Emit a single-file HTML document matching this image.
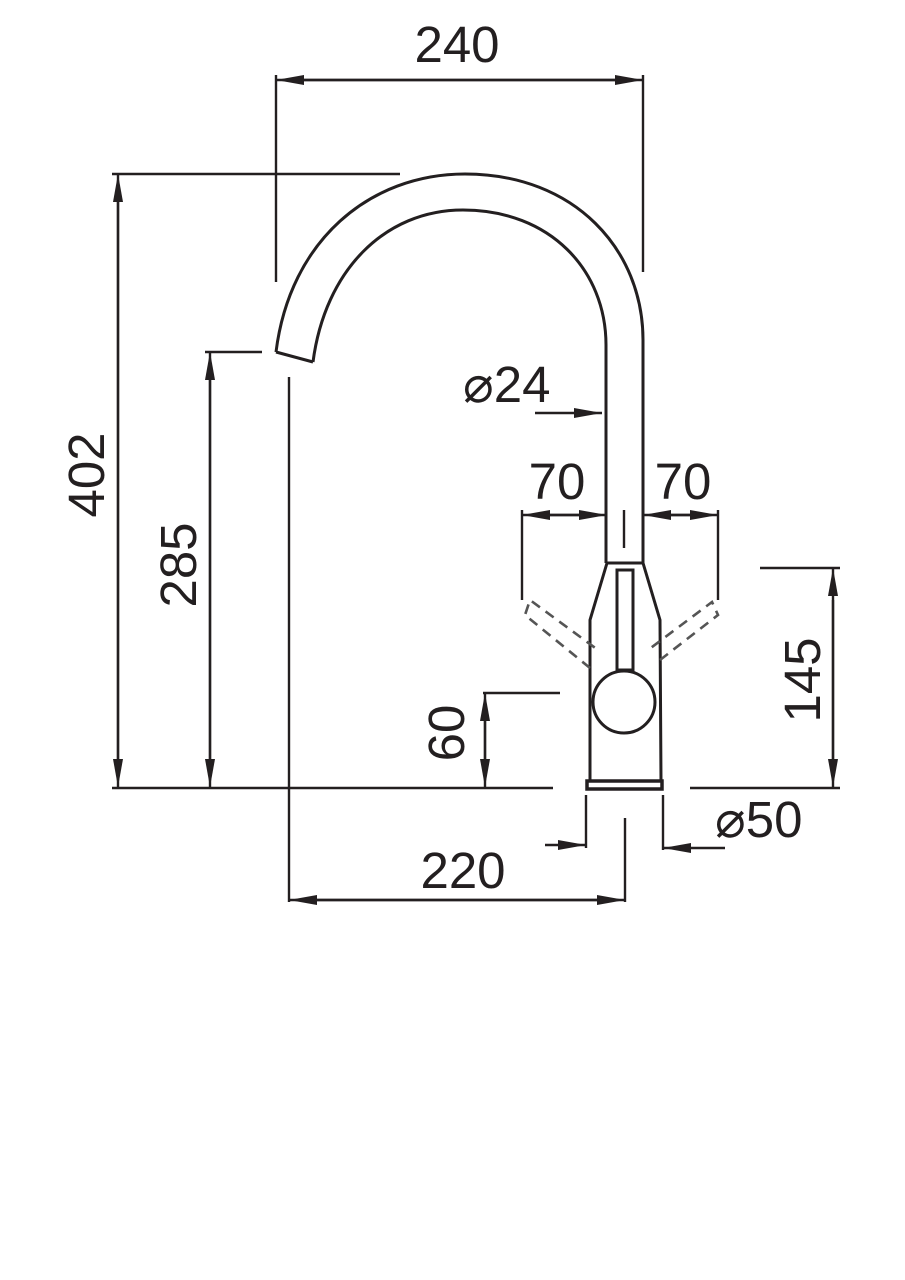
<!DOCTYPE html>
<html><head><meta charset="utf-8"><style>
html,body{margin:0;padding:0;background:#fff;}
svg{display:block}
text{font-family:"Liberation Sans",sans-serif;font-size:51px;fill:#231f20}
</style></head><body>
<svg width="905" height="1280" viewBox="0 0 905 1280" xmlns="http://www.w3.org/2000/svg">
<defs>
<marker id="a" markerUnits="userSpaceOnUse" markerWidth="30" markerHeight="12" refX="28" refY="5" orient="auto">
<path d="M0,0 L28,5 L0,10 Z" fill="#231f20"/></marker>
</defs>
<g stroke="#231f20" stroke-width="2.4" fill="none">
<line x1="276" y1="75" x2="276" y2="282"/>
<line x1="643" y1="75" x2="643" y2="272"/>
<line x1="290" y1="80" x2="643" y2="80" marker-end="url(#a)"/>
<line x1="620" y1="80" x2="276" y2="80" marker-end="url(#a)"/>
<line x1="112" y1="174" x2="400" y2="174"/>
<line x1="118" y1="760" x2="118" y2="174" marker-end="url(#a)"/>
<line x1="118" y1="200" x2="118" y2="787" marker-end="url(#a)"/>
<line x1="205" y1="352" x2="262" y2="352"/>
<line x1="210" y1="760" x2="210" y2="352" marker-end="url(#a)"/>
<line x1="210" y1="380" x2="210" y2="787" marker-end="url(#a)"/>
<line x1="112" y1="788" x2="553" y2="788"/>
<line x1="690" y1="788" x2="840" y2="788"/>
<line x1="289" y1="377" x2="289" y2="902"/>
<line x1="625" y1="818" x2="625" y2="902"/>
<line x1="600" y1="900" x2="289" y2="900" marker-end="url(#a)"/>
<line x1="310" y1="900" x2="625" y2="900" marker-end="url(#a)"/>
<line x1="483" y1="693" x2="560" y2="693"/>
<line x1="485" y1="760" x2="485" y2="693" marker-end="url(#a)"/>
<line x1="485" y1="720" x2="485" y2="787" marker-end="url(#a)"/>
<line x1="760" y1="568" x2="840" y2="568"/>
<line x1="833" y1="760" x2="833" y2="568" marker-end="url(#a)"/>
<line x1="833" y1="600" x2="833" y2="787" marker-end="url(#a)"/>
<line x1="586" y1="795" x2="586" y2="848"/>
<line x1="663" y1="795" x2="663" y2="850"/>
<line x1="545" y1="845" x2="586" y2="845" marker-end="url(#a)"/>
<line x1="725" y1="848" x2="663" y2="848" marker-end="url(#a)"/>
<line x1="535" y1="413" x2="602" y2="413" marker-end="url(#a)"/>
<line x1="522" y1="510" x2="522" y2="600"/>
<line x1="718" y1="510" x2="718" y2="600"/>
<line x1="580" y1="515" x2="522" y2="515" marker-end="url(#a)"/>
<line x1="545" y1="515" x2="607" y2="515" marker-end="url(#a)"/>
<line x1="690" y1="515" x2="643" y2="515" marker-end="url(#a)"/>
<line x1="660" y1="515" x2="718" y2="515" marker-end="url(#a)"/>
<line x1="624" y1="510" x2="624" y2="548"/>
</g>
<g stroke="#231f20" stroke-width="3" fill="none">
<path d="M276,352 C290,240 370,174 465,174 C575,174 643,250 643,340 L643,563"/>
<path d="M313,362 C325,270 385,210 463,210 C550,210 606,270 606,345 L606,563"/>
<line x1="276" y1="352" x2="313" y2="362"/>
<path d="M607,563 L643,563 L660,620 L661,782 M607,563 L590,620 L590,782"/>
<rect x="617" y="570" width="16" height="100"/>
<circle cx="624" cy="702" r="31" fill="#fff"/>
<rect x="587" y="781" width="75" height="8" stroke-width="3.5"/>
</g>
<g stroke="#555" stroke-width="2.6" fill="none" stroke-dasharray="10,7">
<path d="M590,668 L525,615 L530,600 L598,650"/>
<path d="M660,660 L718,615 L712,602 L648,650"/>
</g>
<text x="457" y="62" text-anchor="middle">240</text>
<text transform="translate(104,475) rotate(-90)" text-anchor="middle">402</text>
<text transform="translate(196,565) rotate(-90)" text-anchor="middle">285</text>
<text transform="translate(464,733) rotate(-90)" text-anchor="middle">60</text>
<text transform="translate(820,680) rotate(-90)" text-anchor="middle">145</text>
<text x="463" y="888" text-anchor="middle">220</text>
<text x="557" y="499" text-anchor="middle">70</text>
<text x="683" y="499" text-anchor="middle">70</text>
<text x="463" y="402">⌀24</text>
<text x="715" y="837">⌀50</text>
</svg>
</body></html>
